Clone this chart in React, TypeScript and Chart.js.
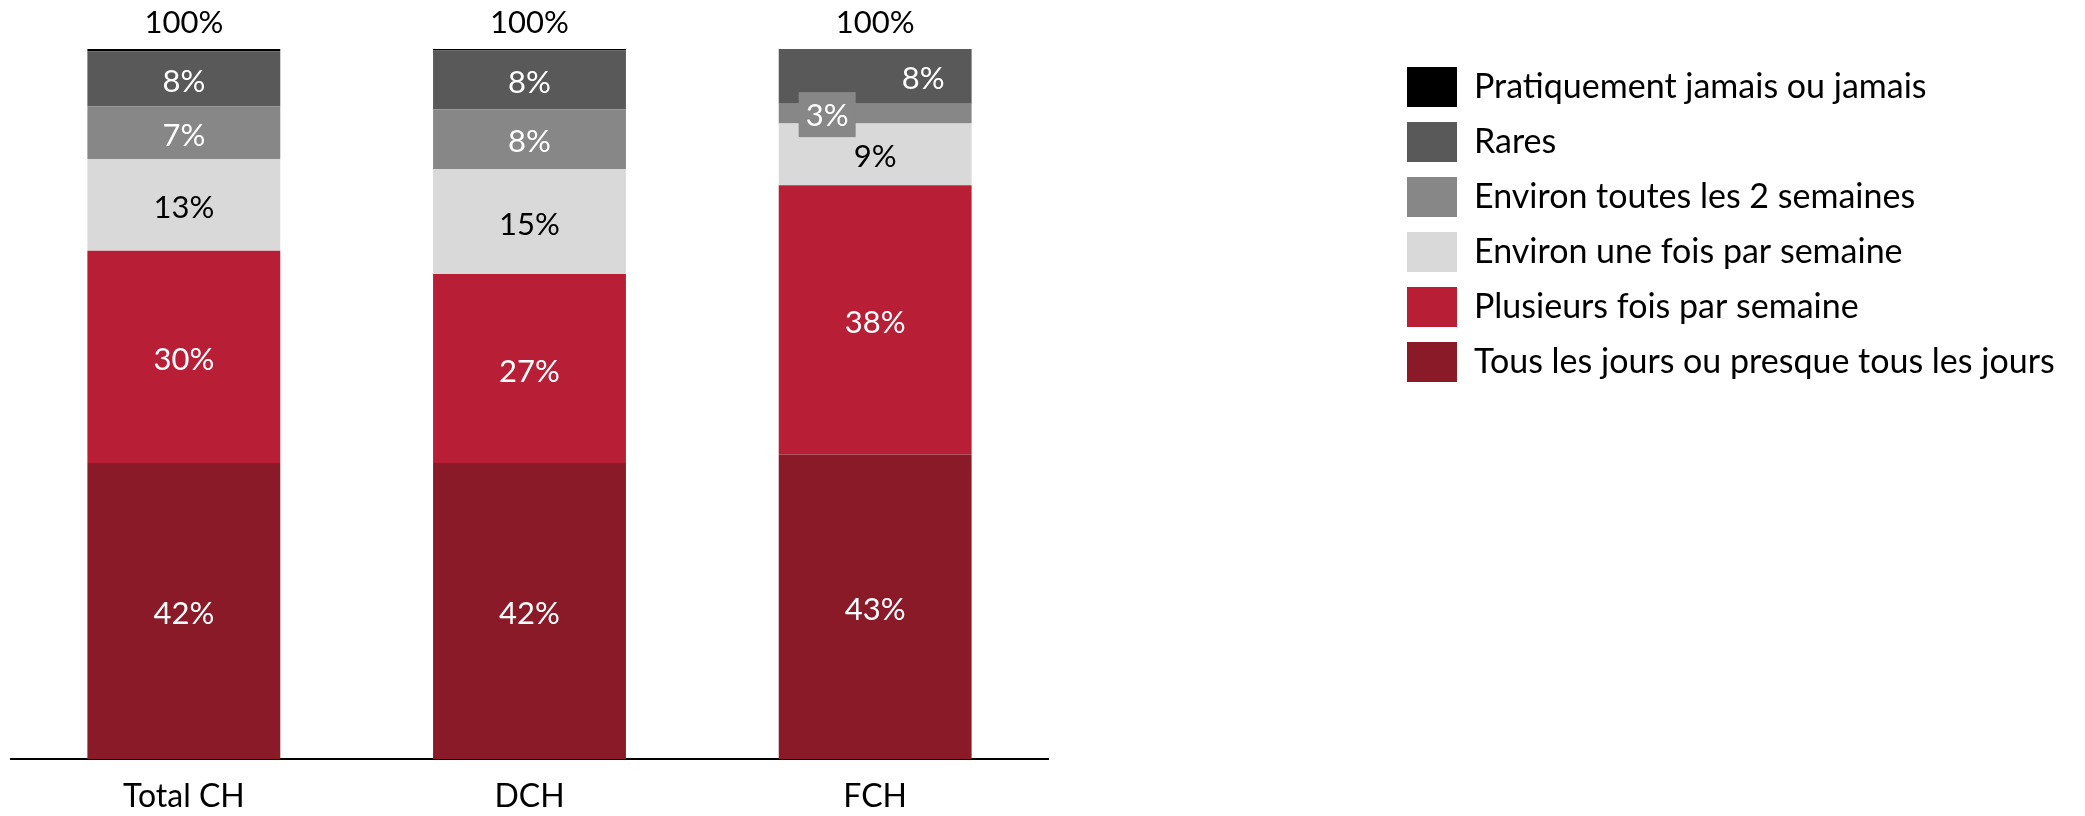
import { useEffect, useRef } from 'react';
import { Chart, registerables } from 'chart.js';

Chart.register(...registerables);

// ---- data ----
const categories = ['Total CH', 'DCH', 'FCH'];
const seriesNames = [
  'Tous les jours ou presque tous les jours',
  'Plusieurs fois par semaine',
  'Environ une fois par semaine',
  'Environ toutes les 2 semaines',
  'Rares',
  'Pratiquement jamais ou jamais',
];
const dailyValues = [41.7, 41.7, 42.9];
const severalValues = [29.9, 26.6, 37.9];
const weeklyValues = [12.9, 14.8, 8.7];
const biweeklyValues = [7.4, 8.4, 2.8];
const rareValues = [7.8, 8.3, 7.7];
const neverValues = [0.3, 0.2, 0];

// ---- styles ----
const seriesColors = ['#8B1A29', '#B81F36', '#D9D9D9', '#878787', '#595959', '#000000'];
const labelColors = ['#FFFFFF', '#FFFFFF', '#000000', '#FFFFFF', '#FFFFFF', '#FFFFFF'];
const FONT_FAMILY = 'Lato';
const LABEL_FONT_SIZE = 31;
const TICK_FONT_SIZE = 32;
const LEGEND_FONT_SIZE = 34;
const CANVAS_W = 2085;
const CANVAS_H = 816;
const LEGEND_AREA_WIDTH = 1037;
const LEGEND_LEFT = 1392;
const LEGEND_TOP_SHIFT = 3;
const X_AXIS_HEIGHT = 57;
const TOTAL_LABEL_OFFSET = 26.5;
const SEGMENT_LABEL_DY = 3;
// label nudges keyed "datasetIndex-categoryIndex"
const labelNudges: Record<string, { dx: number; dy: number; boxed?: boolean }> = {
  '3-2': { dx: -48, dy: 1, boxed: true },
  '4-2': { dx: 48, dy: SEGMENT_LABEL_DY },
};

const valueLabels = {
  id: 'valueLabels',
  afterDatasetsDraw(chart: any) {
    const ctx = chart.ctx;
    ctx.save();
    ctx.font = `${LABEL_FONT_SIZE}px ${FONT_FAMILY}`;
    ctx.textAlign = 'center';
    ctx.textBaseline = 'middle';
    chart.data.datasets.forEach((ds: any, di: number) => {
      const meta = chart.getDatasetMeta(di);
      meta.data.forEach((bar: any, i: number) => {
        const v = ds.data[i];
        if (v < 1) return;
        const n = labelNudges[`${di}-${i}`] || { dx: 0, dy: SEGMENT_LABEL_DY };
        const x = bar.x + n.dx;
        const y = (bar.y + bar.base) / 2 + n.dy;
        const text = `${Math.round(v)}%`;
        if (n.boxed) {
          ctx.fillStyle = ds.backgroundColor;
          ctx.fillRect(x - 28.5, y - 22.5, 57, 45);
        }
        ctx.fillStyle = labelColors[di];
        ctx.fillText(text, x, y + (n.boxed ? 1 : 0));
      });
    });
    const xs = chart.scales.x;
    const ys = chart.scales.y;
    categories.forEach((_c, i) => {
      const sum = chart.data.datasets.reduce((s: number, ds: any) => s + ds.data[i], 0);
      ctx.fillStyle = '#000000';
      ctx.fillText(`${Math.round(sum)}%`, xs.getPixelForValue(i), ys.getPixelForValue(sum) - TOTAL_LABEL_OFFSET);
    });
    ctx.restore();
  },
};

const legendPlacement = {
  id: 'legendPlacement',
  afterInit(chart: any) {
    const legend = chart.legend;
    if (!legend) return;
    const fit = legend.fit.bind(legend);
    legend.fit = () => {
      fit();
      legend.width = LEGEND_AREA_WIDTH;
    };
  },
  afterLayout(chart: any) {
    const legend = chart.legend;
    if (!legend) return;
    const shift = LEGEND_LEFT - legend.left;
    legend.left += shift;
    legend.right += shift;
    legend.top += LEGEND_TOP_SHIFT;
    legend.bottom += LEGEND_TOP_SHIFT;
  },
};

export default function App() {
  const ref = useRef<HTMLCanvasElement | null>(null);

  useEffect(() => {
    if (!ref.current) return;
    Chart.defaults.font.family = FONT_FAMILY;
    const values = [dailyValues, severalValues, weeklyValues, biweeklyValues, rareValues, neverValues];
    const chart = new Chart(ref.current, {
      type: 'bar',
      data: {
        labels: categories,
        datasets: values.map((data, i) => ({
          label: seriesNames[i],
          data,
          backgroundColor: seriesColors[i],
          borderWidth: 0,
          categoryPercentage: 1,
          barPercentage: 0.558,
        })),
      },
      options: {
        responsive: false,
        animation: false,
        devicePixelRatio: 1,
        layout: { padding: { top: 49, left: 11, right: 0, bottom: 0 } },
        scales: {
          x: {
            stacked: true,
            grid: { display: false, drawTicks: false, tickLength: 0 },
            border: { display: true, color: '#000000', width: 2 },
            ticks: { color: '#000000', font: { size: TICK_FONT_SIZE, family: FONT_FAMILY }, padding: 18 },
            afterFit: (scale: any) => {
              scale.height = X_AXIS_HEIGHT;
            },
          },
          y: { stacked: true, display: false, min: 0, max: 100 },
        },
        plugins: {
          tooltip: { enabled: false },
          legend: {
            position: 'right',
            align: 'start',
            reverse: true,
            labels: {
              boxWidth: 50,
              boxHeight: 40,
              padding: 15,
              color: '#000000',
              font: { size: LEGEND_FONT_SIZE, family: FONT_FAMILY },
            },
          },
        },
      },
      plugins: [valueLabels, legendPlacement],
    } as any);
    return () => chart.destroy();
  }, []);

  return (
    <div style={{ position: 'absolute', left: 0, top: 0, width: CANVAS_W, height: CANVAS_H, background: '#FFFFFF' }}>
      <canvas ref={ref} width={CANVAS_W} height={CANVAS_H} style={{ display: 'block' }} />
    </div>
  );
}
